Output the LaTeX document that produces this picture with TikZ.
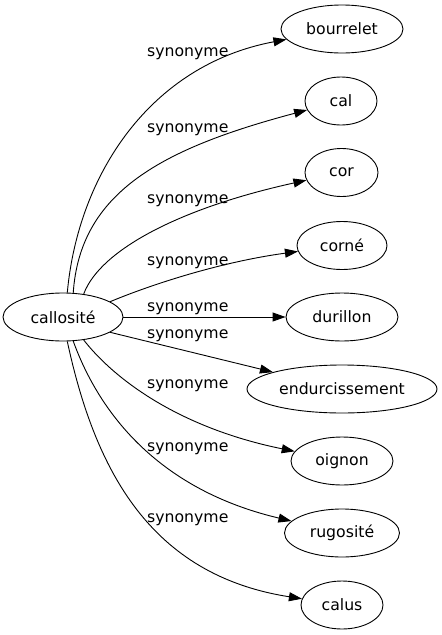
\documentclass[tikz,border=0pt]{standalone}
\usepackage{fontspec}
\setmainfont{DejaVu Sans}
\usetikzlibrary{arrows.meta,shapes.geometric}
\begin{document}
\begin{tikzpicture}[x=1pt,y=-1pt,
  every node/.style={font=\fontsize{15.7}{18}\selectfont},
  term/.style={ellipse, draw, line width=0.9pt, minimum height=48pt, inner sep=0pt},
  rel/.style={draw, line width=0.9pt, -{Triangle[length=13pt,width=9pt]}},
  lab/.style={anchor=base west, inner sep=0pt}]
\useasboundingbox (0,0) rectangle (442,635);
\node[term, minimum width=120pt] (callosite) at (63,317) {callosité};
\node[term, minimum width=122pt] (bourrelet) at (342,29) {bourrelet};
\node[term, minimum width=72pt] (cal) at (341,101) {cal};
\node[term, minimum width=73pt] (cor) at (341.5,172.5) {cor};
\node[term, minimum width=90pt] (corne) at (342,245.5) {corné};
\node[term, minimum width=112pt] (durillon) at (342,317) {durillon};
\node[term, minimum width=190pt] (endurc) at (342,389) {endurcissement};
\node[term, minimum width=102pt] (oignon) at (342,461) {oignon};
\node[term, minimum width=115pt] (rugosite) at (342,533) {rugosité};
\node[term, minimum width=82pt] (calus) at (342,605) {calus};

\draw[rel] (callosite.80) .. controls (78,175) and (150,65) .. (bourrelet);
\draw[rel] (callosite.67) .. controls (80,193) and (160,149) .. (cal);
\draw[rel] (callosite.48) .. controls (100,250) and (180,208) .. (cor);
\draw[rel] (callosite.18) .. controls (150,285) and (220,262) .. (corne);
\draw[rel] (callosite) -- (durillon);
\draw[rel] (callosite.-18) -- (endurc);
\draw[rel] (callosite.-48) .. controls (115,380) and (180,428) .. (oignon);
\draw[rel] (callosite.-67) .. controls (100,415) and (160,490) .. (rugosite);
\draw[rel] (callosite.-80) .. controls (95,470) and (150,575) .. (calus);

\node[lab] (l1) at (147,56) {synonyme};
\node[lab] (l2) at (147,132) {synonyme};
\node[lab] (l3) at (147,203) {synonyme};
\node[lab] (l4) at (147,265) {synonyme};
\node[lab] (l5) at (147,311) {synonyme};
\node[lab] (l6) at (147,338) {synonyme};
\node[lab] (l7) at (147,388) {synonyme};
\node[lab] (l8) at (147,451) {synonyme};
\node[lab] (l9) at (147,522) {synonyme};
\end{tikzpicture}
\end{document}
